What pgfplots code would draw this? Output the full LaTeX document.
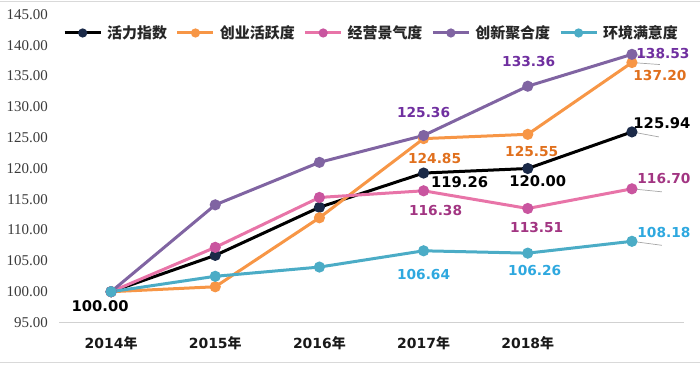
\documentclass[border=0pt]{standalone}
\usepackage{pgfplots}
\pgfplotsset{compat=1.18}
\usepackage{fontspec}
\setmainfont{Liberation Serif}
\newfontfamily\cjk{Noto Sans CJK SC}
\newfontfamily\lab{DejaVu Sans}
\definecolor{cblack}{HTML}{000000}
\definecolor{mblack}{HTML}{1B2A48}
\definecolor{corange}{HTML}{F79646}
\definecolor{cpink}{HTML}{E874A8}
\definecolor{mpink}{HTML}{C9559F}
\definecolor{cpurple}{HTML}{8064A2}
\definecolor{cteal}{HTML}{4BACC6}
\definecolor{lorange}{HTML}{E0701E}
\definecolor{lpink}{HTML}{A23582}
\definecolor{lpurple}{HTML}{7030A0}
\definecolor{lteal}{HTML}{2EA8DF}
\definecolor{tickgray}{HTML}{3A3A3A}
\newcommand{\yr}[1]{{\lab\bfseries #1}{\cjk\bfseries 年}}
\begin{document}
\begin{tikzpicture}[x=1bp,y=1bp]
\path[use as bounding box] (0,0) rectangle (700,365);
\draw[black!15, line width=1bp] (0,363) -- (700,363);
\draw[black!15, line width=1bp] (0,2.5) -- (700,2.5);
\begin{axis}[
  at={(59bp,42.5bp)}, anchor=south west,
  scale only axis, width=625bp, height=308bp,
  xmin=-0.5, xmax=5.5, ymin=95, ymax=145,
  axis x line=bottom, axis y line=left,
  x axis line style={black!18, line width=1bp, -},
  y axis line style={draw=none, -},
  xtick={0,1,2,3,4},
  xticklabels={\yr{2014},\yr{2015},\yr{2016},\yr{2017},\yr{2018}},
  xticklabel style={anchor=north, inner sep=0pt, yshift=-14bp, font=\fontsize{14}{16}\selectfont, text=black!90},
  major tick length=0pt,
  ytick={95,100,...,145},
  yticklabel style={anchor=east, inner sep=0pt, xshift=-11bp, font=\fontsize{15}{17}\selectfont, text=tickgray,
    /pgf/number format/.cd, fixed, fixed zerofill, precision=2, assume math mode=true},
  clip=false,
  legend columns=5,
  legend style={at={(rel axis cs:0.0064,0.94)}, anchor=west, draw=none, fill=none,
    inner sep=0pt, nodes={inner sep=0pt, font=\cjk\bfseries\fontsize{15}{17}\selectfont, text=black!85},
    /tikz/every odd column/.append style={column sep=5bp},
    /tikz/every even column/.append style={column sep=9bp}},
  legend image code/.code={\draw[mark repeat=2,mark phase=2,mark size=3bp,#1] plot coordinates {(0bp,0bp) (18bp,0bp) (36bp,0bp)};},
  every axis plot/.append style={line width=3bp, mark=*, mark size=4bp},
]
\addplot[color=cblack, mark options={fill=mblack, draw=mblack}] coordinates {(0,100) (1,105.9) (2,113.7) (3,119.26) (4,120.00) (5,125.94)};
\addlegendentry{活力指数}
\addplot[color=corange, mark options={fill=corange, draw=corange}] coordinates {(0,100) (1,100.8) (2,112.0) (3,124.85) (4,125.55) (5,137.20)};
\addlegendentry{创业活跃度}
\addplot[color=cpink, mark options={fill=mpink, draw=mpink}] coordinates {(0,100) (1,107.2) (2,115.3) (3,116.38) (4,113.51) (5,116.70)};
\addlegendentry{经营景气度}
\addplot[color=cpurple, mark options={fill=cpurple, draw=cpurple}] coordinates {(0,100) (1,114.1) (2,121.0) (3,125.36) (4,133.36) (5,138.53)};
\addlegendentry{创新聚合度}
\addplot[color=cteal, mark options={fill=cteal, draw=cteal}] coordinates {(0,100) (1,102.5) (2,104.0) (3,106.64) (4,106.26) (5,108.18)};
\addlegendentry{环境满意度}

% leader lines
\draw[black!35, line width=0.7bp] (axis cs:5,138.53) -- ++(30bp,-4bp);
\draw[black!35, line width=0.7bp] (axis cs:5,137.20) -- ++(28bp,-2bp);
\draw[black!35, line width=0.7bp] (axis cs:5,125.94) -- ++(27bp,-5bp);
\draw[black!35, line width=0.7bp] (axis cs:5,116.70) -- ++(30bp,-3bp);
\draw[black!35, line width=0.7bp] (axis cs:5,108.18) -- ++(30bp,-4bp);

% data labels
\tikzset{blab/.style={font=\lab\bfseries\fontsize{14.8}{16}\selectfont, text=black, inner sep=0pt},
         dlab/.style={font=\lab\bfseries\fontsize{13.8}{15}\selectfont, inner sep=0pt}}
\node[blab, xshift=-11bp, yshift=-14bp] at (axis cs:0,100) {100.00};
\node[dlab, text=lpurple, yshift=23bp] at (axis cs:3,125.36) {125.36};
\node[dlab, text=lorange, xshift=11bp, yshift=-20bp] at (axis cs:3,124.85) {124.85};
\node[blab, xshift=36bp, yshift=-9bp] at (axis cs:3,119.26) {119.26};
\node[dlab, text=lpink, xshift=12bp, yshift=-20bp] at (axis cs:3,116.38) {116.38};
\node[dlab, text=lteal, yshift=-24bp] at (axis cs:3,106.64) {106.64};
\node[dlab, text=lpurple, xshift=1bp, yshift=25bp] at (axis cs:4,133.36) {133.36};
\node[dlab, text=lorange, xshift=4bp, yshift=-17bp] at (axis cs:4,125.55) {125.55};
\node[blab, xshift=10bp, yshift=-13bp] at (axis cs:4,120.00) {120.00};
\node[dlab, text=lpink, xshift=9bp, yshift=-19bp] at (axis cs:4,113.51) {113.51};
\node[dlab, text=lteal, xshift=7bp, yshift=-17bp] at (axis cs:4,106.26) {106.26};
\node[dlab, text=lpurple, xshift=31bp, yshift=1bp] at (axis cs:5,138.53) {138.53};
\node[dlab, text=lorange, xshift=28bp, yshift=-13bp] at (axis cs:5,137.20) {137.20};
\node[blab, xshift=30bp, yshift=9bp] at (axis cs:5,125.94) {125.94};
\node[dlab, text=lpink, xshift=32bp, yshift=10bp] at (axis cs:5,116.70) {116.70};
\node[dlab, text=lteal, xshift=32bp, yshift=9bp] at (axis cs:5,108.18) {108.18};
\end{axis}
\end{tikzpicture}
\end{document}
